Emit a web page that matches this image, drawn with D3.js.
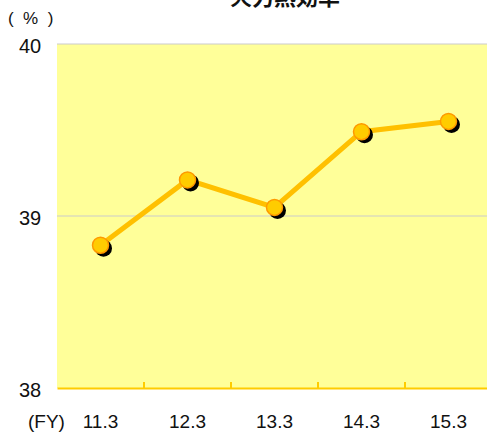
<!DOCTYPE html>
<html>
<head>
<meta charset="utf-8">
<script src="https://cdn.jsdelivr.net/npm/d3@7"></script>
<style>
  body { margin: 0; background: #fff; }
  svg { display: block; font-family: "Liberation Sans", Arial, sans-serif; }
</style>
</head>
<body>
<svg width="487" height="435"></svg>
<script>
// chart data
var years = ["11.3", "12.3", "13.3", "14.3", "15.3"];
var efficiency = [38.83, 39.21, 39.05, 39.49, 39.55];
var yTicks = [38, 39, 40];

var svg = d3.select("svg");

var x = d3.scaleBand().domain(years).range([57, 492]);
var y = d3.scaleLinear().domain([38, 40]).range([388, 44]);

// plot background
svg.append("rect")
  .attr("x", x.range()[0])
  .attr("y", y(40))
  .attr("width", x.range()[1] - x.range()[0])
  .attr("height", y(38) - y(40))
  .attr("fill", "#ffff99");

// grid lines
svg.selectAll(".grid")
  .data(yTicks.filter(function(d) { return d > 38; }))
  .enter().append("line")
    .attr("x1", x.range()[0])
    .attr("x2", x.range()[1])
    .attr("y1", function(d) { return y(d); })
    .attr("y2", function(d) { return y(d); })
    .attr("stroke", "#cccccc")
    .attr("stroke-width", 1.2);

// x axis
var xAxis = svg.append("g")
  .attr("transform", "translate(0," + y(38) + ")")
  .call(d3.axisBottom(x).tickSize(0).tickFormat(""));
xAxis.select(".domain").attr("stroke", "#ffcc00").attr("stroke-width", 2);
var tickPos = years.map(function(d) { return x(d); });
xAxis.selectAll(".tk")
  .data(tickPos.slice(1))
  .enter().append("line")
    .attr("x1", function(d) { return d; })
    .attr("x2", function(d) { return d; })
    .attr("y1", 0).attr("y2", -6)
    .attr("stroke", "#ffcc00")
    .attr("stroke-width", 2);

svg.selectAll(".xlabel")
  .data(years)
  .enter().append("text")
    .attr("x", function(d) { return x(d) + x.bandwidth() / 2; })
    .attr("y", 428)
    .attr("text-anchor", "middle")
    .attr("font-size", 19)
    .attr("fill", "#111")
    .text(function(d) { return d; });

svg.append("text")
  .attr("x", 28).attr("y", 428)
  .attr("font-size", 19).attr("fill", "#111")
  .text("(FY)");

// y labels
svg.selectAll(".ylabel")
  .data(yTicks)
  .enter().append("text")
    .attr("x", 30)
    .attr("y", function(d) { return y(d) + 9; })
    .attr("text-anchor", "middle")
    .attr("font-size", 20)
    .attr("fill", "#111")
    .text(function(d) { return d; });

svg.append("text")
  .attr("x", 8).attr("y", 24)
  .attr("font-size", 17).attr("fill", "#111")
  .attr("xml:space", "preserve")
  .text("(  %  )");

// title (cut at top, as in the original)
svg.append("text")
  .attr("x", 285).attr("y", 5)
  .attr("text-anchor", "middle")
  .attr("font-family", "'Noto Sans CJK JP', sans-serif")
  .attr("font-size", 22)
  .attr("font-weight", "bold")
  .attr("fill", "#111")
  .text("火力熱効率");

var cx = function(d, i) { return x(years[i]) + x.bandwidth() / 2; };

// line
var line = d3.line()
  .x(function(d, i) { return cx(d, i); })
  .y(function(d) { return y(d); });

svg.append("path")
  .datum(efficiency)
  .attr("d", line)
  .attr("fill", "none")
  .attr("stroke", "#ffc000")
  .attr("stroke-width", 5);

// marker shadows
svg.selectAll(".shadow")
  .data(efficiency)
  .enter().append("circle")
    .attr("cx", function(d, i) { return cx(d, i) + 3; })
    .attr("cy", function(d) { return y(d) + 3; })
    .attr("r", 8.5)
    .attr("fill", "#000");

// markers
svg.selectAll(".dot")
  .data(efficiency)
  .enter().append("circle")
    .attr("cx", function(d, i) { return cx(d, i); })
    .attr("cy", function(d) { return y(d); })
    .attr("r", 8)
    .attr("fill", "#ffcc00")
    .attr("stroke", "#ff9900")
    .attr("stroke-width", 1.5);
</script>
</body>
</html>
